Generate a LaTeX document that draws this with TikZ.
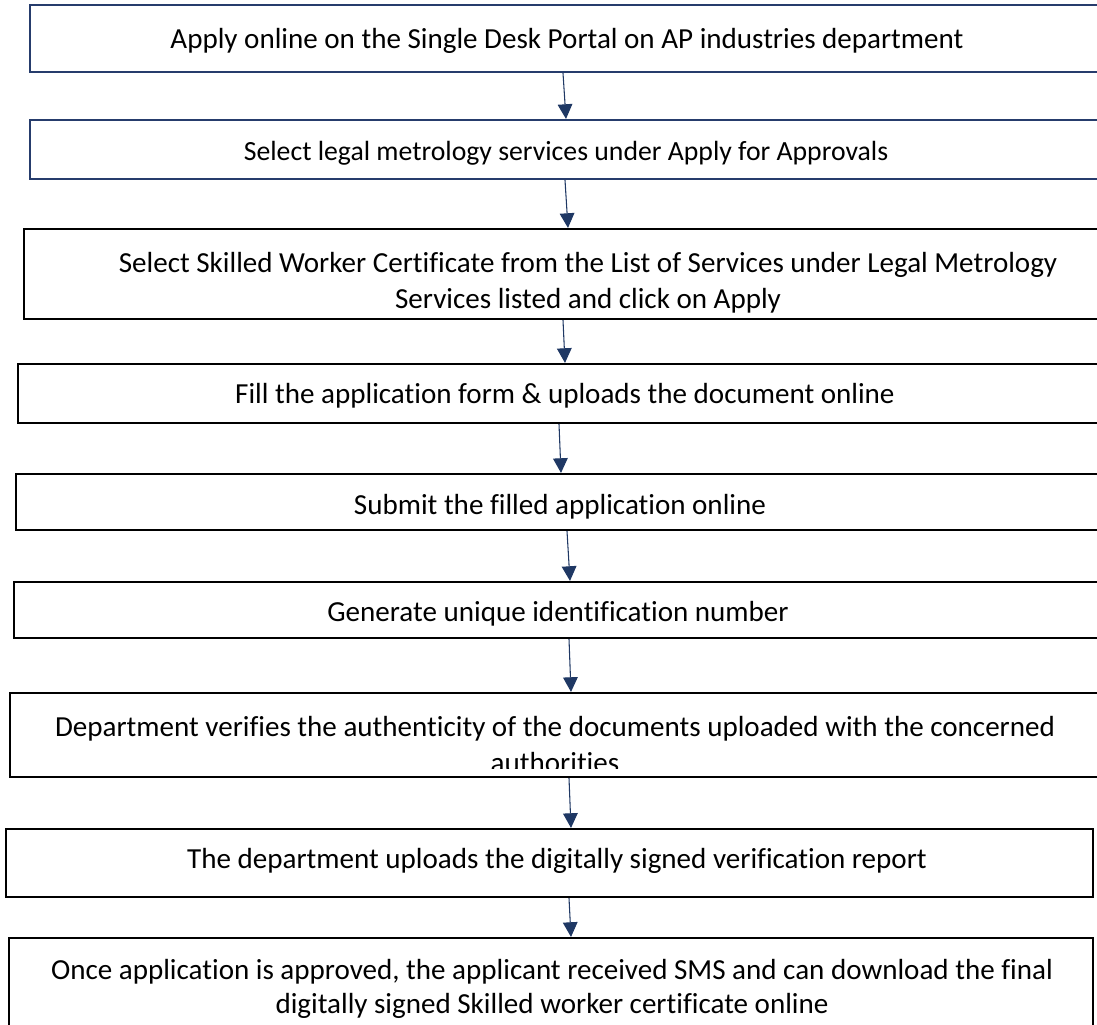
\documentclass[tikz,border=0pt]{standalone}
\usepackage{fontspec}
\setmainfont{Carlito}[Ligatures=NoCommon]
\usetikzlibrary{arrows.meta}
\definecolor{navy}{RGB}{38,60,108}
\definecolor{arrowblue}{RGB}{31,56,100}
\begin{document}
\begin{tikzpicture}[x=0.75pt,y=-0.75pt,
  boxblue/.style={draw=navy,line width=1.6pt,rectangle,inner sep=0pt},
  boxblack/.style={draw=black,line width=1.6pt,rectangle,inner sep=0pt},
  txt/.style={font=\fontsize{21.8pt}{27pt}\selectfont,align=center,inner sep=0pt,anchor=base},
  arr/.style={draw=arrowblue,line width=0.8pt,-{Triangle[width=11pt,length=11pt]}}]
\useasboundingbox (0,0) rectangle (1097,1025);
\clip (0,0) rectangle (1097,1025);
% boxes (centre x, centre y, width, height in px)
\node[boxblue,minimum width=1074*0.75pt,minimum height=67*0.75pt] (b1) at (567,38.5) {};
\node[boxblue,minimum width=1072*0.75pt,minimum height=59*0.75pt] (b2) at (566,149.5) {};
\node[boxblack,minimum width=1128*0.75pt,minimum height=90*0.75pt] (b3) at (588,274) {};
\node[boxblack,minimum width=1094*0.75pt,minimum height=59*0.75pt] (b4) at (565,393.5) {};
\node[boxblack,minimum width=1088*0.75pt,minimum height=56*0.75pt] (b5) at (560,502) {};
\node[boxblack,minimum width=1088*0.75pt,minimum height=56*0.75pt] (b6) at (558,610) {};
\node[boxblack,minimum width=1090*0.75pt,minimum height=84*0.75pt] (b7) at (555,735) {};
\node[boxblack,minimum width=1087*0.75pt,minimum height=68*0.75pt] (b8) at (549.5,863) {};
\node[boxblack,minimum width=1084*0.75pt,minimum height=97*0.75pt] (b9) at (551,986.5) {};
% texts (anchored at the baseline of the last line)
\node[txt] (t1) at (567,48) {Apply online on the Single Desk Portal on AP industries department};
\node[txt,font=\fontsize{20.8pt}{26pt}\selectfont] (t2) at (566,160) {Select legal metrology services under Apply for Approvals};
\node[txt] (t3) at (588,308) {Select Skilled Worker Certificate from the List of Services under Legal Metrology\\Services listed and click on Apply};
\node[txt] (t4) at (565,403) {Fill the application form \& uploads the document online};
\node[txt] (t5) at (560,514) {Submit the filled application online};
\node[txt] (t6) at (558,621) {Generate unique identification number};
\begin{scope}
\clip (10,690) rectangle (1100,768);
\node[txt] (t7) at (555,772) {Department verifies the authenticity of the documents uploaded with the concerned\\authorities};
\end{scope}
\node[txt] (t8) at (557,868) {The department uploads the digitally signed verification report};
\node[txt,font=\fontsize{21.8pt}{25pt}\selectfont] (t9) at (552,1013) {Once application is approved, the applicant received SMS and can download the final\\digitally signed Skilled worker certificate online};
% arrows
\draw[arr] ([xshift=-4*0.75pt]b1.south) -- ([xshift=0pt]b2.north);
\draw[arr] ([xshift=-1*0.75pt]b2.south) -- ([xshift=-20*0.75pt]b3.north);
\draw[arr] ([xshift=-25*0.75pt]b3.south) -- ([xshift=0pt]b4.north);
\draw[arr] ([xshift=-6*0.75pt]b4.south) -- ([xshift=1*0.75pt]b5.north);
\draw[arr] ([xshift=7*0.75pt]b5.south) -- ([xshift=12*0.75pt]b6.north);
\draw[arr] ([xshift=11*0.75pt]b6.south) -- ([xshift=16*0.75pt]b7.north);
\draw[arr] ([xshift=14*0.75pt]b7.south) -- ([xshift=21.5*0.75pt]b8.north);
\draw[arr] ([xshift=19.5*0.75pt]b8.south) -- ([xshift=20*0.75pt]b9.north);
\end{tikzpicture}
\end{document}
